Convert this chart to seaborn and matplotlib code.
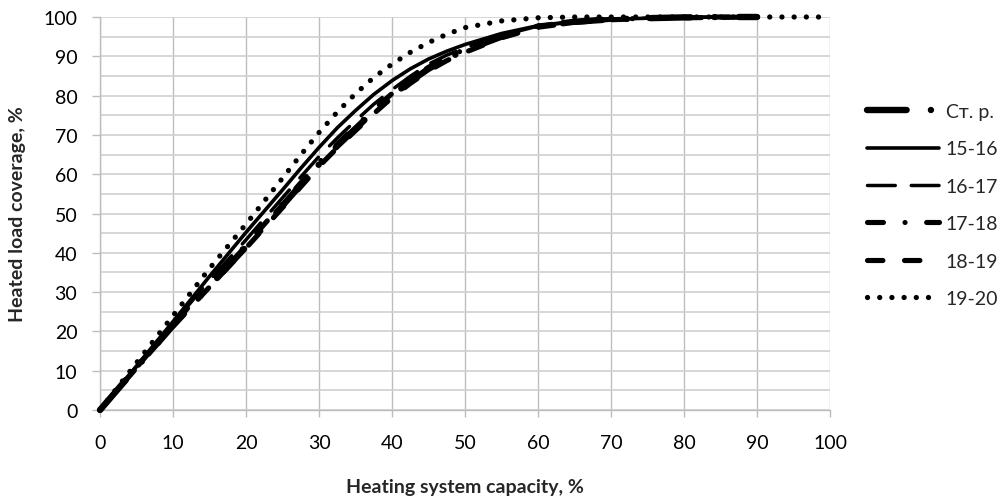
import matplotlib
matplotlib.use("Agg")
import matplotlib.pyplot as plt
from matplotlib.ticker import MultipleLocator
import seaborn as sns
import pandas as pd

# ---------------- data ----------------
x_main = [0, 5, 10, 15, 20, 25, 27.5, 30, 32.5, 35, 37.5, 40, 42.5, 45, 47.5, 50,
          55, 60, 65, 70, 75, 80, 85, 90]
x_1920 = [0, 5, 10, 15, 20, 25, 27.5, 30, 32.5, 35, 37.5, 40, 42.5, 45, 47.5, 50,
          55, 60, 65, 70, 75, 80, 85, 90, 95, 100]

y_st = [0, 10.8, 21.5, 31.5, 41.5, 52.0, 57.3, 62.5, 67.2, 71.6, 76.0, 80.0, 83.6, 86.8,
        89.4, 91.5, 95.0, 97.6, 98.8, 99.4, 99.7, 99.9, 100, 100]
y_1516 = [0, 11.2, 22.5, 34.0, 45.2, 56.0, 61.5, 66.8, 71.8, 76.2, 80.3, 83.8, 86.8, 89.3,
          91.3, 93.0, 95.8, 97.8, 98.9, 99.4, 99.7, 99.9, 100, 100]
y_1617 = [0, 11.0, 22.0, 33.0, 43.3, 54.0, 59.3, 64.5, 69.2, 73.6, 77.8, 81.5, 84.9, 88.0,
          90.3, 92.2, 95.3, 97.7, 98.8, 99.4, 99.7, 99.9, 100, 100]
y_1718 = [0, 10.8, 21.8, 32.0, 42.0, 52.5, 57.8, 63.0, 67.7, 72.1, 76.5, 80.5, 84.0, 87.2,
          89.7, 91.8, 95.2, 97.7, 98.8, 99.4, 99.7, 99.9, 100, 100]
y_1819 = [0, 10.7, 21.3, 31.3, 41.2, 51.5, 56.8, 62.0, 66.7, 71.1, 75.4, 79.5, 83.1, 86.3,
          88.9, 91.0, 94.7, 97.4, 98.6, 99.3, 99.6, 99.8, 99.9, 100]
y_1920 = [0, 12.0, 24.0, 36.0, 47.3, 59.0, 64.9, 70.6, 75.8, 80.5, 84.6, 88.0, 91.0, 93.5,
          95.6, 97.3, 99.0, 99.8, 100, 100, 100, 100, 100, 100, 100, 100]

labels = ["Ст. р.", "15-16", "16-17", "17-18", "18-19", "19-20"]
x_ticks = [0, 10, 20, 30, 40, 50, 60, 70, 80, 90, 100]
y_ticks = [0, 10, 20, 30, 40, 50, 60, 70, 80, 90, 100]

series = [
    (labels[0], x_main, y_st),
    (labels[1], x_main, y_1516),
    (labels[2], x_main, y_1617),
    (labels[3], x_main, y_1718),
    (labels[4], x_main, y_1819),
    (labels[5], x_1920, y_1920),
]

# styles: (linewidth pt, dash pattern or None)
styles = {
    "Ст. р.": (4.6, (6.2, 3.8, 0.01, 3.8)),
    "15-16": (2.6, None),
    "16-17": (2.5, (8.0, 4.6)),
    "17-18": (3.7, (3.1, 4.2, 0.01, 4.2)),
    "18-19": (3.7, (3.0, 4.2)),
    "19-20": (3.8, (0.01, 2.3)),
}

# ---------------- style ----------------
sns.set_theme(style="white")
plt.rcParams["font.family"] = ["Lato", "DejaVu Sans"]

fig = plt.figure(figsize=(10.05, 5.02), dpi=100)
W, H = 1005, 502
ax = fig.add_axes([100 / W, 1 - 411 / H, 730 / W, 393 / H])

frames = []
for name, xs, ys in series:
    frames.append(pd.DataFrame({"x": xs, "y": ys, "series": name}))
df = pd.concat(frames, ignore_index=True)

for name in labels:
    sub = df[df["series"] == name]
    sns.lineplot(data=sub, x="x", y="y", ax=ax, color="black", label=name,
                 sort=False, estimator=None)
    line = ax.lines[-1]
    lw, dash = styles[name]
    line.set_linewidth(lw)
    if dash is None:
        line.set_linestyle("-")
        line.set_solid_capstyle("round")
    else:
        line.set_linestyle((0, dash))
        line.set_dash_capstyle("round")
    line.set_solid_joinstyle("round")
    line.set_dash_joinstyle("round")
    line.set_clip_on(False)
    line.set_zorder(3)

ax.set_xlim(0, 100)
ax.set_ylim(0, 100)
ax.set_xticks(x_ticks)
ax.set_yticks(y_ticks)
ax.yaxis.set_minor_locator(MultipleLocator(5))

gridc = "#d0d0d0"
ax.grid(True, which="major", axis="x", color="#bdbdbd", linewidth=1.0)
ax.grid(True, which="both", axis="y", color=gridc, linewidth=1.2)
ax.set_axisbelow(True)

for s in ["top", "right"]:
    ax.spines[s].set_visible(False)
for s in ["left", "bottom"]:
    ax.spines[s].set_visible(True)
    ax.spines[s].set_color("#bdbdbd")
    ax.spines[s].set_linewidth(1.0)

ax.tick_params(axis="y", which="major", direction="out", length=5.8, width=1.0,
               color="#bdbdbd", labelsize=14, pad=10.5, labelcolor="black", left=True)
ax.tick_params(axis="x", which="major", direction="out", length=5.0, width=1.0,
               color="#bdbdbd", labelsize=14, pad=12.5, labelcolor="black", bottom=True)
ax.tick_params(axis="y", which="minor", length=0, left=False)

ax.set_xlabel("")
ax.set_ylabel("")
fig.text(465 / W, 1 - 488 / H, "Heating system capacity, %", ha="center", va="center",
         fontsize=14, fontweight="bold")
fig.text(18 / W, 1 - 214 / H, "Heated load coverage, %", ha="center", va="center",
         fontsize=14, fontweight="bold", rotation=90)

handles, lbls = ax.get_legend_handles_labels()
ax.legend(handles, lbls, loc="center left", bbox_to_anchor=(867 / W, 1 - 206 / H),
          bbox_transform=fig.transFigure, frameon=False, fontsize=14,
          handlelength=3.7, handletextpad=0.35, labelspacing=1.05,
          borderpad=0, borderaxespad=0)

fig.savefig("out.png", dpi=100)
